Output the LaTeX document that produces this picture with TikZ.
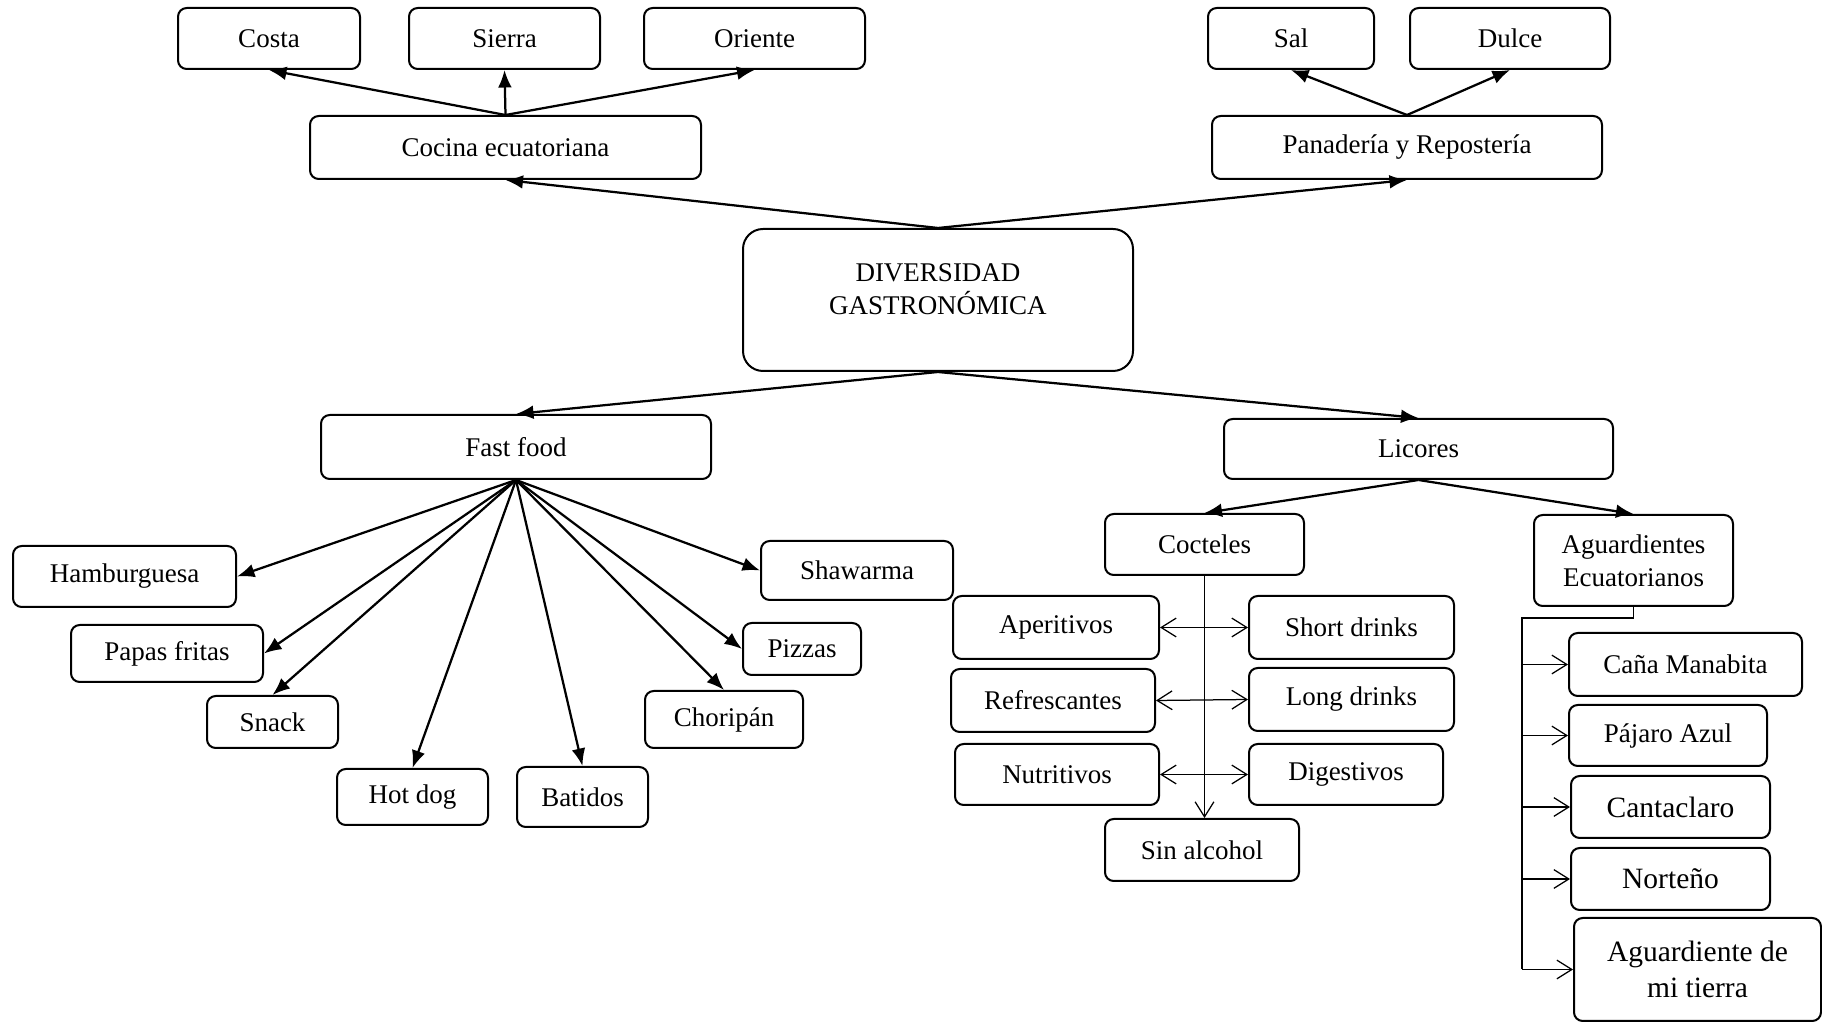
\documentclass[tikz,border=0pt]{standalone}
\usepackage{fontspec}
\setmainfont{Liberation Serif}
\usetikzlibrary{arrows.meta,positioning}

\tikzset{
  box/.style 2 args={draw, rounded corners=3.5pt, line width=0.8pt, align=center,
    minimum width=#1*0.4pt, minimum height=#2*0.4pt, inner sep=1pt,
    font=\fontsize{10.8}{13.2}\selectfont},
  bigtext/.style={font=\fontsize{11.8}{14.4}\selectfont},
  mainarrow/.style={-{Latex[length=7pt,width=5.5pt]}, line width=0.9pt},
  barb/.style={line width=0.5pt, arrows={-Straight Barb[length=6pt,width=7.5pt]}},
  barbs/.style={line width=0.5pt, arrows={Straight Barb[length=6pt,width=7.5pt]-Straight Barb[length=6pt,width=7.5pt]}},
}

\begin{document}
\begin{tikzpicture}[x=0.4pt,y=-0.4pt]
\useasboundingbox (0,0) rectangle (1822,1024);

% centre
\node[box={390}{142}, rounded corners=8pt] (div) at (938,300) {DIVERSIDAD\\GASTRONÓMICA\\[-4.4pt]};

% upper branches
\node[box={391}{63}] (cocina) at (505.5,147.5) {Cocina ecuatoriana};
\node[box={390}{63}] (pan) at (1407,147.5) {Panadería y Repostería};
\node[box={182}{61}] (costa) at (269,38.5) {Costa};
\node[box={191}{61}] (sierra) at (504.5,38.5) {Sierra};
\node[box={221}{61}] (oriente) at (754.5,38.5) {Oriente};
\node[box={166}{61}] (sal) at (1291,38.5) {Sal};
\node[box={200}{61}] (dulce) at (1510,38.5) {Dulce};

\draw[mainarrow] (div.north) -- (cocina.south);
\draw[mainarrow] (div.north) -- (pan.south);
\foreach \n in {costa,sierra,oriente}
  \draw[mainarrow] (cocina.north) -- (\n.south);
\foreach \n in {sal,dulce}
  \draw[mainarrow] (pan.north) -- (\n.south);

% fast food
\node[box={390}{64}] (fast) at (516,447) {Fast food};
\node[box={223}{61}] (hamb) at (124.5,576.5) {Hamburguesa};
\node[box={192}{57}] (papas) at (167,653.5) {Papas fritas};
\node[box={131}{52}] (snack) at (272.5,722) {Snack};
\node[box={151}{56}] (hotdog) at (412.5,797) {Hot dog};
\node[box={131}{60}] (batidos) at (582.5,797) {Batidos};
\node[box={158}{57}] (chori) at (724,719.5) {Choripán};
\node[box={118}{52}] (pizzas) at (802,649) {Pizzas};
\node[box={192}{59}] (shaw) at (857,570.5) {Shawarma};

\draw[mainarrow] (div.south) -- (fast.north);
\foreach \n in {hamb,papas}
  \draw[mainarrow] (fast.south) -- (\n.east);
\foreach \n in {pizzas,shaw}
  \draw[mainarrow] (fast.south) -- (\n.west);
\foreach \n in {snack,hotdog,batidos,chori}
  \draw[mainarrow] (fast.south) -- (\n.north);

% licores
\node[box={389}{60}] (lic) at (1418.5,449) {Licores};
\node[box={199}{91}] (agu) at (1633.5,560.5) {Aguardientes\\Ecuatorianos};
\node[box={199}{61}] (coct) at (1204.5,544.5) {Cocteles};

\draw[mainarrow] (div.south) -- (lic.north);
\draw[mainarrow] (lic.south) -- (coct.north);
\draw[mainarrow] (lic.south) -- (agu.north);

\node[box={206}{63}] (aper) at (1056,627.5) {Aperitivos};
\node[box={204}{63}] (refr) at (1053,700.5) {Refrescantes};
\node[box={204}{61}] (nutr) at (1057,774.5) {Nutritivos};
\node[box={205}{63}] (short) at (1351.5,627.5) {Short drinks};
\node[box={205}{63}] (long) at (1351.5,699.5) {Long drinks};
\node[box={194}{61}] (dige) at (1346,774.5) {Digestivos};
\node[box={194}{62}] (sinal) at (1202,850) {Sin alcohol};

\draw[barb] (coct.south) -- (coct.south |- sinal.north);
\draw[barbs] (aper.east) -- (short.west);
\draw[barbs] (refr.east) -- (long.west);
\draw[barbs] (nutr.east) -- (dige.west);

\node[box={233}{63}] (cana) at (1685.5,664.5) {Caña Manabita};
\node[box={198}{61}] (pajaro) at (1668,735.5) {Pájaro Azul};
\node[box={199}{62}, bigtext] (canta) at (1670.5,807) {Cantaclaro};
\node[box={199}{62}, bigtext] (norte) at (1670.5,879) {Norteño};
\node[box={247}{103}, bigtext] (tierra) at (1697.5,969.5) {Aguardiente de\\mi tierra};

\coordinate (agbus) at (1522,618);
\draw[line width=0.6pt] (agu.south) |- (agbus) -- (agbus |- tierra.west);
\foreach \n in {cana,pajaro,canta,norte,tierra}
  \draw[barb] (agbus |- \n.west) -- (\n.west);
\end{tikzpicture}
\end{document}
